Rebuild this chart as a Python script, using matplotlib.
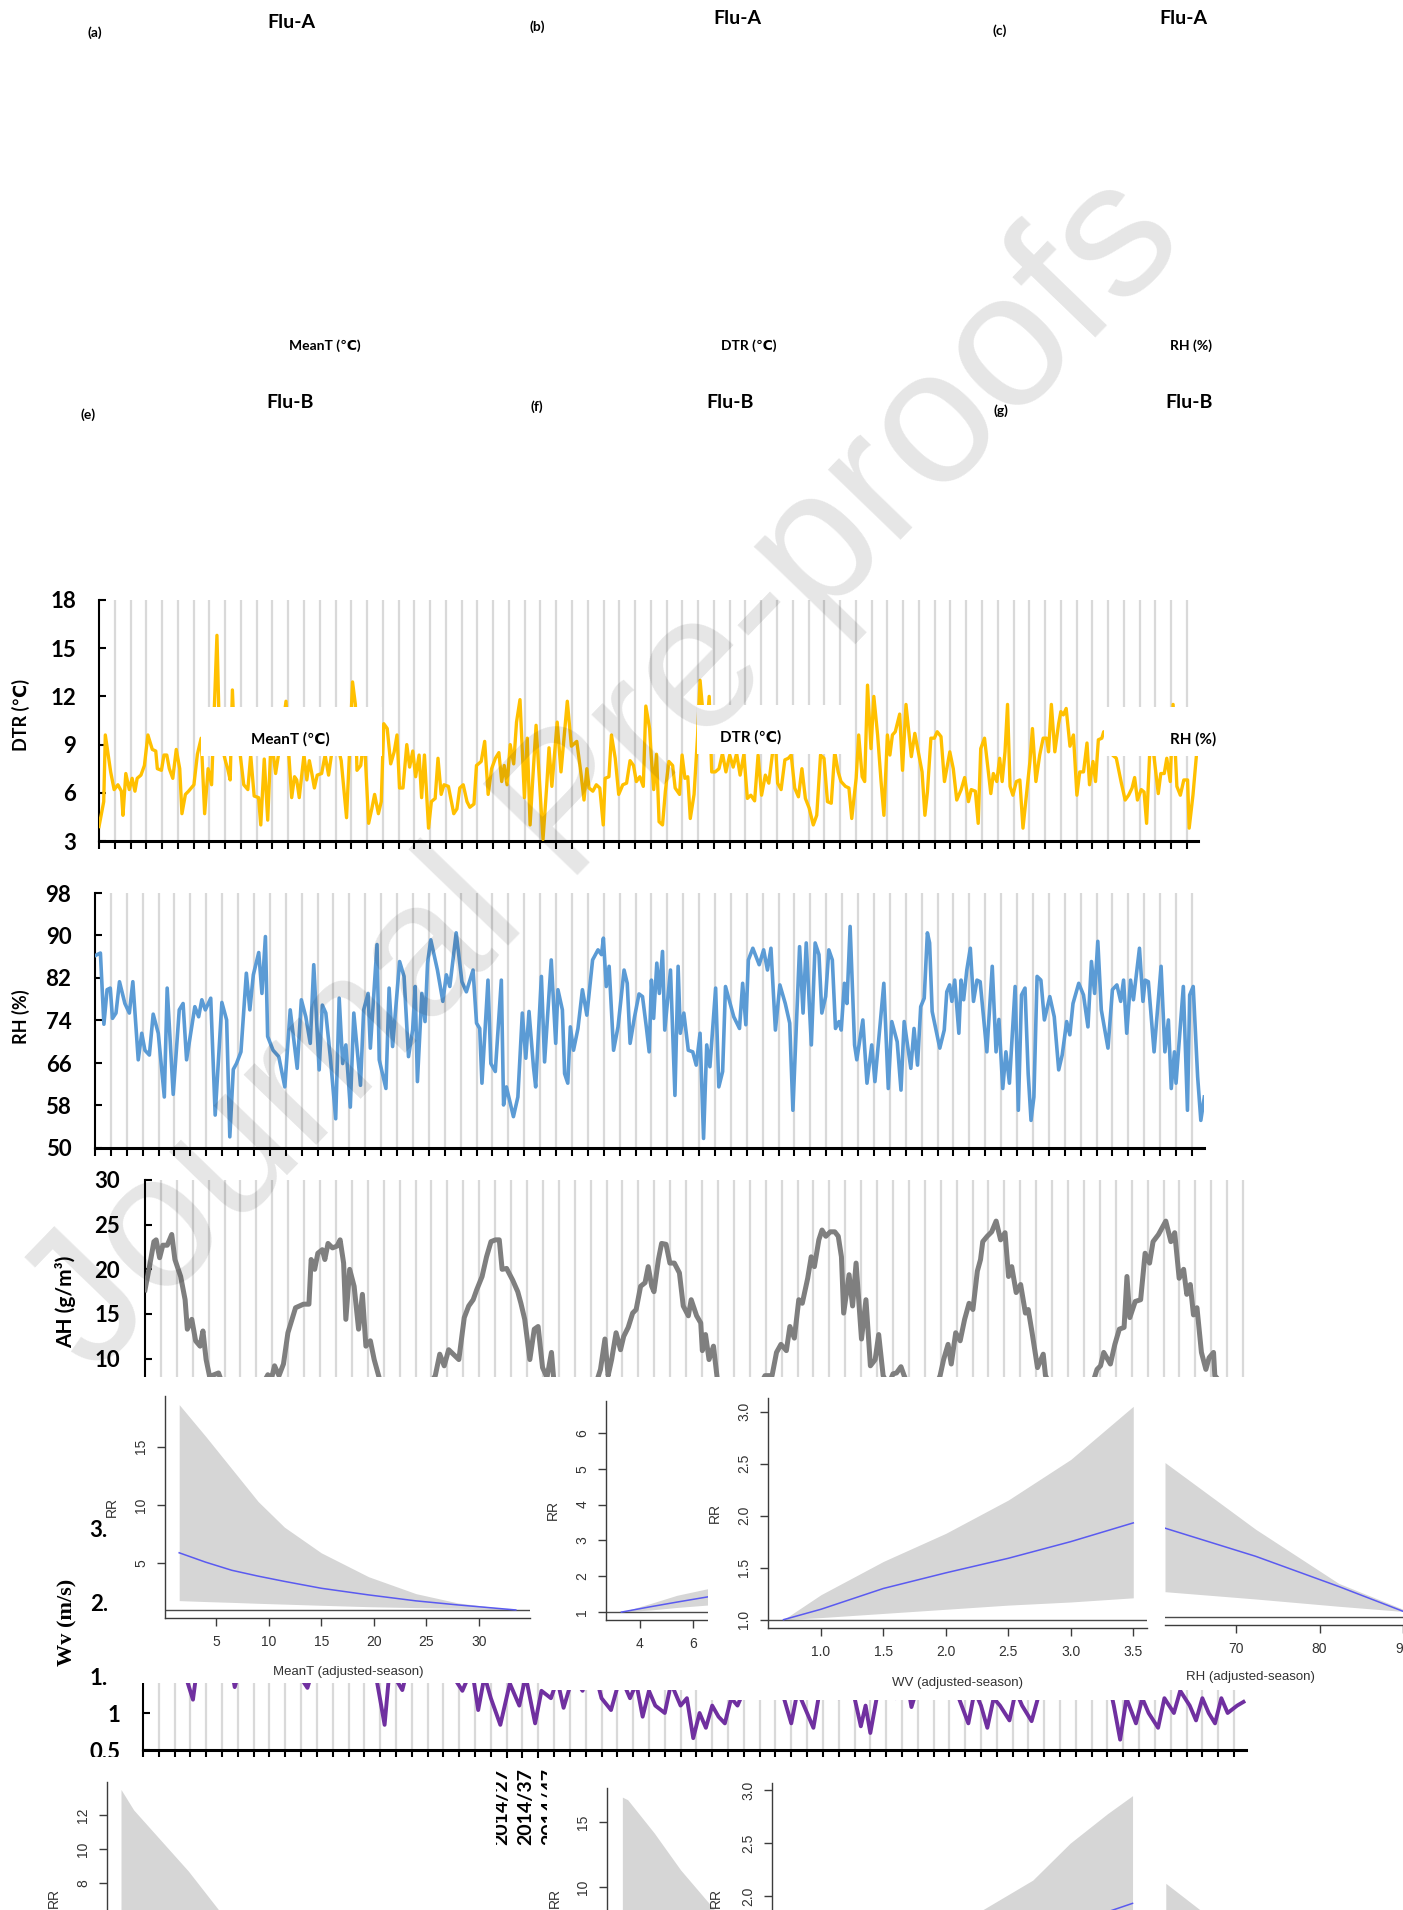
import numpy as np
import matplotlib
matplotlib.use("Agg")
from matplotlib import pyplot as plt
from matplotlib import font_manager as fm

# ---------------------------------------------------------------------------
# weekly series (x = week index, vertices)
# ---------------------------------------------------------------------------
dtr_week = [0, 1.5, 2.0, 3.7, 4.8, 6.0, 7.1, 7.6, 8.5, 9.6,
            10.5, 11.4, 12.1, 13.3, 14.4, 15.5, 16.9, 18.0, 18.5, 19.8,
            20.6, 21.5, 22.3, 23.4, 24.5, 25.6, 26.3, 27.4, 28.4, 30.1,
            31.2, 32.4, 33.5, 34.6, 35.7, 37.4, 38.2, 40.2, 40.8, 41.6,
            42.3, 43.0, 44.7, 45.9, 47.2, 48.1, 49.2, 50.6, 51.3, 52.4,
            53.5, 54.6, 56.0, 56.9, 58.2, 59.3, 60.2, 61.1, 62.0, 62.7,
            63.5, 65.0, 65.9, 66.7, 67.4, 68.3, 69.2, 70.6, 71.7, 72.8,
            73.7, 75.1, 76.8, 78.5, 79.4, 80.4, 81.3, 81.8, 83.0, 84.1,
            85.5, 86.5, 87.4, 88.6, 89.5, 90.3, 91.4, 92.5, 93.6, 94.5,
            95.3, 96.4, 97.6, 98.5, 99.5, 100.4, 101.5, 102.3, 103.2, 104.5,
            105.4, 106.6, 107.5, 108.5, 109.4, 110.8, 112.5, 113.5, 114.4, 115.5,
            116.7, 117.6, 118.9, 119.7, 121.2, 122.3, 123.4, 124.5, 125.7, 126.8,
            127.7, 128.5, 129.4, 130.4, 131.5, 132.4, 133.5, 134.9, 135.8, 136.7,
            137.5, 138.6, 139.7, 140.8, 142.0, 142.7, 143.6, 145.3, 146.5, 148.5,
            149.8, 151.5, 152.9, 153.8, 154.7, 155.4, 156.6, 157.7, 158.8, 159.9,
            160.5, 161.7, 162.5, 163.7, 164.8, 166.1, 167.3, 168.4, 169.5, 170.4,
            171.5, 172.6, 173.4, 174.6, 175.1, 175.9, 176.8, 177.6, 178.7, 179.6,
            180.7, 181.9, 182.7, 184.1, 184.9, 185.8, 186.7, 187.5, 188.7, 189.8,
            190.6, 192.4, 193.5, 194.3, 195.4, 196.6, 197.7, 198.8, 200.0, 201.1,
            202.2, 203.3, 204.5, 205.6, 206.7, 207.9, 209.0, 210.1, 211.3, 212.4,
            213.5, 214.3, 215.2, 216.3, 217.5, 218.6, 219.5, 220.6, 221.8, 222.9,
            224.0, 225.2, 226.5, 227.6, 228.8, 229.9, 231.0, 232.2, 233.3, 234.4,
            235.3, 236.7, 237.8, 238.7, 240.1, 240.9, 242.0, 242.8, 243.7, 244.8,
            245.7, 246.9, 248.0, 248.9, 250.0, 250.8, 251.6, 252.5, 253.9, 254.8,
            255.9, 257.0, 257.6, 258.7, 259.8, 261.0, 261.9, 262.7, 263.8, 264.9,
            265.8, 267.0, 268.1, 269.8, 270.9, 272.0, 273.4, 274.5, 275.7, 276.6,
            277.9, 278.8, 279.6, 280.8, 281.9, 282.8, 283.6, 284.7, 285.6, 286.4,
            287.3, 288.1, 288.9, 289.8, 290.9, 292.0, 293.0, 294.1, 295.2, 296.0,
            297.1, 298.3, 299.4, 300.5, 301.1, 302.0, 303.1, 304.3, 305.0, 305.8,
            306.7, 307.9, 309.0, 310.1, 311.0, 312.2, 313.3, 314.1, 315.2, 316.0,
            316.9, 318.0, 318.6, 320.3, 321.4, 322.6, 324.2, 325.4, 326.5, 327.6,
            328.4, 329.3, 330.5, 331.4, 332.2, 333.3, 334.4, 335.9, 336.7, 337.8,
            338.6, 339.7, 340.6, 341.8, 342.9, 344.0, 345.2, 345.7, 346.9, 348.3]
dtr_val = [3.9, 5.45, 9.6, 7.3, 6.2, 6.5, 6.1, 4.6, 7.2, 6.2,
           6.9, 6.1, 6.9, 7.1, 7.7, 9.6, 8.7, 8.6, 7.5, 7.4,
           8.35, 8.35, 7.5, 6.9, 8.7, 7.5, 4.7, 5.9, 6.1, 6.5,
           8.4, 9.4, 4.7, 7.5, 6.5, 15.8, 9.5, 7.9, 7.5, 6.8,
           12.4, 9.0, 8.5, 6.5, 6.2, 8.35, 5.8, 5.7, 4.0, 8.1,
           4.3, 9.5, 7.2, 8.35, 10.0, 11.7, 8.35, 5.7, 7.0, 6.8,
           5.7, 8.35, 6.8, 8.0, 7.3, 6.3, 7.1, 7.2, 8.35, 7.1,
           8.35, 9.4, 8.0, 4.45, 8.35, 12.9, 11.5, 7.4, 7.7, 9.6,
           4.1, 5.0, 5.9, 4.7, 5.45, 10.3, 10.0, 7.8, 8.55, 9.6,
           6.3, 6.3, 9.0, 7.6, 8.6, 7.0, 8.35, 5.7, 8.35, 3.8,
           5.45, 5.65, 8.15, 5.9, 6.5, 6.4, 4.7, 5.0, 6.3, 6.5,
           5.45, 5.1, 5.3, 7.7, 7.95, 9.2, 5.9, 7.5, 8.15, 8.5,
           6.7, 7.7, 6.5, 9.0, 7.8, 10.4, 11.8, 5.7, 9.4, 4.0,
           6.7, 10.2, 6.7, 3.1, 6.5, 8.8, 6.4, 10.4, 7.3, 11.7,
           8.9, 9.2, 7.1, 5.55, 7.5, 6.3, 6.1, 6.5, 6.3, 4.0,
           6.9, 7.0, 9.6, 8.15, 5.9, 6.5, 6.6, 8.0, 7.7, 6.7,
           7.0, 6.4, 11.4, 10.0, 8.35, 6.2, 8.4, 4.2, 4.0, 6.1,
           7.95, 7.7, 6.3, 5.9, 8.35, 6.9, 7.0, 4.4, 5.9, 9.5,
           13.0, 9.0, 12.0, 7.3, 7.3, 7.5, 8.45, 7.3, 8.35, 7.6,
           8.45, 7.1, 8.4, 5.65, 5.85, 5.5, 8.35, 5.85, 7.1, 6.6,
           8.35, 9.8, 6.6, 6.2, 8.05, 8.15, 8.35, 6.3, 5.75, 7.5,
           5.65, 5.05, 4.0, 4.6, 8.35, 8.15, 5.45, 5.35, 8.55, 7.3,
           6.7, 6.4, 6.3, 4.4, 6.9, 9.6, 7.0, 6.7, 12.7, 8.75,
           12.0, 9.6, 6.7, 4.6, 9.6, 8.35, 9.6, 9.8, 10.9, 7.4,
           11.5, 9.4, 8.25, 9.7, 8.55, 7.3, 4.6, 6.05, 9.4, 9.4,
           9.8, 9.5, 6.7, 8.55, 7.5, 5.55, 6.2, 6.95, 5.45, 6.2,
           6.1, 4.1, 8.75, 9.4, 7.5, 5.95, 7.2, 6.7, 8.15, 6.7,
           8.55, 11.5, 6.4, 5.85, 6.7, 6.8, 3.8, 5.85, 7.95, 10.0,
           6.7, 8.35, 9.4, 9.4, 8.55, 11.5, 8.55, 10.3, 11.05, 10.85,
           11.25, 8.9, 9.6, 5.85, 7.3, 7.3, 9.1, 6.5, 7.95, 6.7,
           9.3, 9.4, 9.8, 9.0, 8.35, 8.15, 6.6, 5.55, 5.85, 6.3,
           6.95, 5.55, 6.2, 6.05, 4.1, 9.0, 8.5, 5.95, 7.2, 7.2,
           8.15, 6.7, 11.5, 6.4, 5.85, 6.8, 6.8, 3.8, 5.85, 9.0]

rh_week = [0, 1.7, 2.8, 3.8, 4.8, 5.5, 6.6, 7.7, 9.4, 10.8,
           11.9, 13.6, 14.7, 15.7, 17.1, 18.3, 19.9, 21.8, 22.7, 24.6,
           26.5, 27.7, 28.8, 31.4, 32.6, 33.6, 34.7, 36.4, 37.8, 39.9,
           41.4, 42.4, 43.5, 44.5, 45.9, 47.6, 48.7, 49.8, 51.5, 52.5,
           53.6, 54.3, 56.0, 57.8, 59.7, 61.4, 63.6, 64.9, 66.3, 67.7,
           68.8, 70.5, 71.5, 72.6, 74.0, 75.7, 76.8, 77.9, 78.9, 80.3,
           81.4, 83.5, 84.5, 85.9, 86.6, 88.7, 89.4, 91.5, 92.5, 93.6,
           95.8, 97.2, 98.6, 99.9, 100.7, 101.4, 102.8, 103.8, 104.6, 105.6,
           107.7, 109.4, 110.5, 111.6, 113.6, 115.4, 116.8, 118.9, 120.0, 121.0,
           121.7, 123.6, 124.5, 125.9, 127.8, 128.5, 129.4, 131.6, 133.0, 134.4,
           135.5, 136.5, 137.9, 138.6, 140.4, 141.4, 143.5, 144.9, 145.6, 147.0,
           147.7, 148.7, 149.5, 150.5, 151.9, 153.3, 154.7, 156.5, 158.2, 159.3,
           159.9, 160.8, 161.7, 163.1, 164.5, 166.4, 167.4, 168.3, 169.7, 171.1,
           172.2, 173.4, 174.3, 175.0, 175.7, 176.7, 177.5, 178.5, 179.2, 181.0,
           182.4, 183.4, 184.1, 185.2, 186.6, 188.0, 189.1, 190.3, 191.4, 192.4,
           193.4, 195.2, 196.2, 197.4, 198.3, 200.9, 202.7, 203.7, 204.7, 205.5,
           206.9, 208.9, 210.3, 211.5, 212.6, 214.0, 215.4, 217.1, 218.5, 219.5,
           221.6, 222.7, 223.7, 225.3, 226.5, 227.7, 228.6, 229.8, 230.8, 231.9,
           232.9, 234.0, 234.7, 235.7, 236.5, 237.5, 238.9, 239.6, 241.5, 242.8,
           244.3, 245.3, 248.1, 249.5, 250.6, 252.3, 253.5, 254.5, 256.6, 257.6,
           258.7, 259.7, 260.8, 261.8, 262.5, 263.3, 264.3, 265.7, 267.1, 267.9,
           268.8, 269.5, 270.4, 271.7, 272.4, 273.2, 274.2, 275.3, 276.3, 277.4,
           278.4, 280.5, 282.2, 283.4, 284.3, 285.5, 286.5, 287.6, 289.4, 290.4,
           291.4, 292.5, 293.5, 294.4, 295.3, 296.3, 297.5, 298.6, 300.3, 301.7,
           303.1, 304.2, 305.6, 306.6, 307.6, 309.4, 310.9, 312.3, 313.4, 314.4,
           315.4, 316.5, 318.6, 320.0, 321.4, 322.6, 323.5, 324.5, 325.7, 326.6,
           328.5, 329.6, 330.3, 331.3, 333.1, 335.3, 336.5, 337.6, 338.5, 339.5,
           340.0, 342.3, 343.6, 344.3, 345.4, 346.8, 347.8, 348.9]
rh_val = [86.2, 86.7, 73.3, 79.8, 80.1, 74.4, 75.4, 81.3, 77.2, 75.4,
          81.3, 66.6, 71.6, 68.4, 67.5, 75.2, 71.6, 59.6, 80.1, 60.1,
          76.0, 77.2, 66.6, 76.6, 74.7, 77.9, 76.0, 78.2, 56.2, 77.4,
          74.1, 52.1, 64.8, 65.9, 68.1, 82.9, 76.0, 82.6, 86.8, 79.1,
          89.8, 71.0, 68.4, 67.2, 61.5, 76.0, 65.0, 77.9, 74.7, 69.7,
          84.5, 64.7, 76.9, 75.4, 67.2, 55.5, 78.2, 65.9, 69.4, 57.7,
          75.4, 61.8, 76.0, 79.1, 68.8, 88.3, 66.6, 61.2, 80.1, 69.1,
          85.1, 82.3, 67.2, 72.2, 80.4, 62.5, 79.1, 73.8, 84.8, 89.2,
          83.5, 77.6, 82.6, 80.4, 90.5, 81.3, 79.4, 83.5, 73.5, 72.5,
          62.2, 81.6, 65.9, 64.4, 81.6, 58.1, 61.5, 55.9, 59.6, 75.4,
          66.9, 75.7, 65.3, 61.5, 82.3, 66.2, 85.4, 69.7, 79.8, 76.0,
          64.0, 62.2, 72.8, 68.4, 72.5, 79.8, 75.0, 85.4, 87.3, 86.4,
          89.5, 80.4, 84.2, 68.4, 72.8, 83.5, 81.0, 69.7, 74.7, 79.0,
          78.5, 72.8, 68.1, 81.6, 74.4, 84.8, 79.1, 87.0, 72.2, 83.5,
          59.9, 84.2, 71.6, 75.4, 68.4, 68.1, 65.6, 71.6, 51.8, 69.4,
          65.3, 80.1, 61.5, 64.4, 80.4, 74.7, 72.5, 81.0, 73.2, 85.4,
          87.6, 84.5, 87.3, 83.5, 87.6, 72.2, 80.7, 77.2, 73.5, 57.1,
          87.9, 75.4, 88.6, 69.4, 88.6, 86.4, 75.4, 78.5, 87.3, 85.4,
          72.5, 73.8, 72.2, 81.0, 77.2, 91.7, 69.4, 66.6, 74.1, 62.2,
          69.4, 62.5, 81.0, 61.2, 73.8, 70.0, 60.9, 73.8, 65.0, 72.5,
          65.6, 76.6, 78.2, 90.5, 88.6, 75.7, 72.8, 68.8, 72.2, 79.4,
          80.7, 77.6, 81.6, 71.6, 81.6, 77.9, 83.5, 87.6, 77.6, 81.6,
          81.3, 68.1, 84.2, 68.1, 74.2, 61.2, 68.1, 62.2, 80.4, 57.1,
          78.8, 80.1, 64.0, 55.2, 59.6, 82.3, 81.6, 74.1, 78.5, 74.7,
          64.7, 67.5, 73.8, 71.3, 77.2, 81.0, 78.8, 72.8, 85.1, 79.1,
          88.9, 76.0, 68.8, 79.8, 80.7, 77.6, 81.6, 71.6, 81.6, 77.9,
          87.6, 77.6, 81.6, 81.3, 68.1, 84.2, 68.1, 74.1, 61.2, 68.1,
          62.2, 80.4, 57.1, 78.8, 80.4, 63.4, 55.2, 59.6]

ah_week = [0, 1.4, 2.8, 3.5, 4.6, 5.6, 7.0, 8.4, 9.4, 11.2,
           12.6, 13.3, 14.7, 15.9, 17.3, 18.2, 19.2, 20.3, 23.1, 25.0,
           29.0, 33.0, 36.5, 38.6, 39.7, 40.7, 42.1, 43.5, 44.9, 47.3,
           49.8, 51.5, 52.2, 53.3, 54.3, 55.7, 56.5, 57.5, 58.9, 60.3,
           61.3, 62.4, 63.1, 64.3, 65.7, 67.1, 68.3, 69.4, 70.8, 72.0,
           73.7, 77.0, 81.0, 85.0, 88.5, 91.2, 92.6, 94.0, 95.4, 98.6,
           100.3, 101.7, 103.1, 104.2, 105.9, 107.3, 108.7, 110.1, 111.3, 112.2,
           113.6, 115.5, 117.1, 118.1, 119.3, 120.9, 122.3, 123.5, 124.9, 126.3,
           127.7, 128.4, 131.0, 135.0, 139.0, 141.5, 143.1, 144.5, 145.5, 146.6,
           148.0, 149.4, 150.4, 151.8, 153.2, 154.3, 155.7, 157.1, 158.1, 159.2,
           159.9, 161.3, 162.3, 163.7, 164.9, 166.3, 167.9, 169.1, 170.7, 171.6,
           173.3, 174.6, 175.1, 176.1, 177.2, 178.6, 179.8, 183.0, 187.0, 191.0,
           194.8, 197.0, 198.4, 199.8, 201.5, 202.6, 204.0, 205.4, 206.5, 208.2,
           209.3, 210.3, 211.7, 212.7, 213.9, 215.3, 216.7, 217.8, 218.8, 219.5,
           221.2, 222.3, 223.4, 225.1, 226.5, 227.9, 229.4, 230.5, 231.9, 233.5,
           235.0, 236.1, 237.5, 238.5, 241.0, 245.0, 248.0, 249.8, 250.9, 252.3,
           253.3, 254.7, 256.1, 257.5, 258.9, 260.1, 261.5, 262.5, 263.2, 264.6,
           266.0, 267.4, 268.8, 270.2, 271.3, 272.3, 273.7, 275.1, 276.6, 277.5,
           278.7, 280.4, 282.2, 282.9, 286.0, 290.0, 294.0, 297.5, 299.1, 300.2,
           301.2, 303.3, 304.7, 306.1, 307.6, 308.5, 309.4, 311.1, 312.8, 314.2,
           315.6, 316.7, 318.4, 320.7, 322.3, 323.5, 324.9, 326.3, 327.3, 328.4,
           329.4, 330.5, 331.9, 333.3, 334.3, 335.7, 336.1, 340.0, 344.0, 348.0]
ah_val = [17.7, 20.3, 23.1, 23.3, 21.3, 22.7, 22.7, 23.9, 21.1, 19.2,
          16.6, 13.3, 14.4, 12.0, 11.4, 13.1, 9.9, 8.0, 8.4, 6.5,
          5.0, 5.5, 6.8, 8.2, 7.7, 9.2, 8.1, 9.4, 12.9, 15.7,
          16.1, 16.1, 21.1, 20.0, 21.8, 22.2, 21.1, 22.9, 22.4, 22.6,
          23.3, 20.7, 14.4, 20.0, 18.1, 13.3, 17.2, 11.4, 12.0, 9.9,
          7.7, 6.0, 5.2, 4.8, 6.5, 8.1, 10.5, 9.2, 11.0, 9.9,
          14.6, 15.9, 16.6, 17.7, 19.2, 21.4, 23.1, 23.3, 23.3, 20.0,
          20.1, 18.8, 17.5, 16.2, 14.4, 9.9, 13.3, 13.6, 9.0, 7.9,
          10.7, 7.7, 6.0, 5.0, 5.5, 7.0, 8.8, 12.2, 8.1, 9.9,
          12.9, 11.0, 12.5, 13.5, 15.1, 15.5, 18.1, 18.5, 20.3, 18.1,
          17.5, 21.1, 22.9, 22.8, 20.7, 20.7, 19.6, 15.9, 14.8, 16.6,
          14.8, 14.0, 10.9, 12.7, 9.9, 11.4, 7.7, 6.0, 5.0, 5.5,
          8.1, 8.1, 10.7, 11.6, 10.9, 13.6, 12.3, 16.6, 16.2, 19.0,
          21.4, 20.3, 23.3, 24.4, 23.7, 24.2, 24.2, 23.7, 21.4, 15.1,
          19.4, 15.9, 20.7, 12.2, 16.6, 9.2, 9.9, 12.7, 8.1, 7.0,
          8.3, 8.4, 9.1, 8.1, 6.0, 5.0, 6.5, 8.1, 9.9, 11.6,
          9.4, 12.9, 12.0, 14.4, 16.2, 15.5, 19.8, 21.1, 23.1, 23.7,
          24.2, 25.4, 23.3, 24.1, 19.2, 20.3, 17.4, 18.3, 15.1, 15.5,
          12.9, 9.0, 10.5, 8.1, 6.0, 5.0, 5.5, 7.0, 8.8, 9.2,
          10.7, 9.4, 11.6, 13.3, 13.5, 19.2, 14.6, 16.4, 16.6, 21.8,
          20.7, 23.1, 23.9, 25.4, 23.1, 24.1, 19.0, 20.0, 17.2, 18.3,
          14.9, 15.7, 10.7, 8.8, 10.1, 10.7, 8.1, 6.5, 5.5, 5.0]

wv_week = [0, 4, 8, 12, 15.8, 18, 22, 26, 29, 32,
           36, 40, 44, 48, 52, 56, 60, 64, 68, 72,
           75, 76.4, 78, 82, 86, 90, 94, 98, 101, 104,
           106, 108, 110, 113, 116, 119, 121, 124, 126, 129,
           131, 133, 136, 139, 142, 145, 148, 151, 154, 156,
           158, 160, 162, 165, 167, 170, 172, 174, 176, 178,
           180, 182, 184, 186, 188, 190, 194, 198, 202, 205,
           207, 209, 212, 214, 217, 220, 224, 227, 228.5, 230,
           232, 235, 238, 241, 243, 246, 250, 254, 258, 261,
           263, 265, 267, 269, 271, 274, 276, 278, 281, 283,
           286, 290, 294, 298, 302, 305, 307, 309, 311, 314,
           316, 318, 321, 323, 326, 328, 331, 333, 335, 337,
           339, 341, 343, 346, 348]
wv_val = [1.8, 1.6, 2.0, 1.7, 1.18, 1.9, 1.6, 2.1, 1.35, 1.8,
          2.2, 1.7, 2.0, 1.6, 1.34, 1.9, 1.7, 2.1, 1.6, 1.9,
          1.18, 0.84, 1.6, 1.31, 2.0, 1.7, 1.9, 1.5, 1.3, 1.6,
          1.04, 1.5, 1.2, 0.84, 1.4, 1.1, 1.5, 0.86, 1.3, 1.2,
          1.45, 1.07, 1.5, 1.3, 1.7, 1.2, 1.04, 1.5, 1.2, 1.4,
          0.95, 1.3, 1.1, 1.0, 1.4, 1.1, 1.2, 0.66, 1.0, 0.8,
          1.1, 0.95, 0.86, 1.2, 1.1, 1.3, 1.7, 1.5, 1.3, 0.86,
          1.3, 1.1, 0.8, 1.3, 1.6, 1.2, 1.4, 0.82, 1.1, 0.73,
          1.2, 1.4, 1.2, 1.6, 1.08, 1.5, 1.8, 1.4, 1.2, 0.86,
          1.3, 1.1, 0.8, 1.2, 1.1, 0.9, 1.3, 1.1, 0.89, 1.2,
          1.5, 1.7, 1.4, 1.6, 1.3, 1.5, 1.1, 0.64, 1.2, 0.86,
          1.2, 1.0, 0.8, 1.2, 1.0, 1.3, 1.1, 0.9, 1.2, 1.0,
          0.86, 1.2, 1.0, 1.1, 1.15]

dtr_ticks = [3, 6, 9, 12, 15, 18]
rh_ticks = [50, 58, 66, 74, 82, 90, 98]
ah_ticks = [0, 5, 10, 15, 20, 25, 30]
wv_ticks = [0.5, 1, 1.5, 2, 2.5, 3, 3.5, 4]
wv_tick_labels = ["0.5", "1", "1.5", "2", "2.5", "3", "3.5", "4"]
week_labels = ["2014/27", "2014/37", "2014/47"]

# ---------------------------------------------------------------------------
# exposure-response curves (RR with confidence band)
# ---------------------------------------------------------------------------
a_x = [1.5, 4, 6.5, 9, 11.5, 15, 19.5, 24, 28, 33.5]
a_up = [18.6, 15.9, 13.1, 10.3, 8.1, 5.9, 3.85, 2.4, 1.6, 1.0]
a_mid = [5.9, 5.1, 4.4, 3.9, 3.45, 2.86, 2.29, 1.78, 1.43, 1.0]
a_lo = [1.8, 1.72, 1.65, 1.57, 1.5, 1.4, 1.28, 1.2, 1.14, 1.0]

b_x = [3.3, 4.4, 5.4, 6.6]
b_up = [1.0, 1.24, 1.47, 1.66]
b_mid = [1.0, 1.15, 1.28, 1.43]
b_lo = [1.0, 1.06, 1.13, 1.2]

c_x = [0.7, 1.0, 1.5, 2.0, 2.5, 3.0, 3.5]
c_up = [1.0, 1.24, 1.56, 1.83, 2.15, 2.54, 3.05]
c_mid = [1.0, 1.10, 1.30, 1.45, 1.59, 1.75, 1.93]
c_lo = [1.0, 1.02, 1.06, 1.10, 1.14, 1.17, 1.21]

d_x = [61.4, 72.3, 82.3, 90.1]
d_up = [2.48, 1.84, 1.32, 1.07]
d_mid = [1.85, 1.58, 1.29, 1.05]
d_lo = [1.24, 1.17, 1.10, 1.05]

e_x = [1.5, 2.7, 5.3, 7.9, 10.8, 20, 30, 33.6]
e_up = [13.5, 12.3, 10.5, 8.7, 6.4, 3.0, 1.4, 1.0]
e_mid = [4.8, 4.5, 4.0, 3.6, 3.2, 2.1, 1.2, 1.0]
e_lo = [1.6, 1.6, 1.5, 1.45, 1.4, 1.2, 1.05, 1.0]

f_x = [3.3, 3.5, 4.5, 5.5, 6.8, 8.0, 9.0]
f_up = [16.9, 16.7, 14.15, 11.3, 8.2, 6.0, 4.5]
f_mid = [5.0, 4.8, 4.2, 3.6, 3.0, 2.6, 2.3]
f_lo = [1.5, 1.5, 1.4, 1.3, 1.2, 1.1, 1.05]

g_x = [0.7, 1.0, 1.5, 2.0, 2.3, 2.7, 3.0, 3.3, 3.5]
g_up = [1.0, 1.15, 1.4, 1.7, 1.87, 2.15, 2.5, 2.78, 2.95]
g_mid = [1.0, 1.08, 1.2, 1.35, 1.45, 1.6, 1.72, 1.85, 1.93]
g_lo = [1.0, 1.02, 1.05, 1.08, 1.1, 1.13, 1.15, 1.18, 1.2]

h_x = [61.4, 65.5, 70, 80, 90]
h_up = [2.12, 1.87, 1.65, 1.3, 1.05]
h_mid = [1.6, 1.5, 1.4, 1.2, 1.02]
h_lo = [1.2, 1.15, 1.1, 1.05, 1.0]

# ---------------------------------------------------------------------------
W, H = 1403, 1910
fig = plt.figure(figsize=(W / 100, H / 100), dpi=100)

names = {f.name for f in fm.fontManager.ttflist}
BOLD = ['Lato', 'DejaVu Sans'] if 'Lato' in names else ['DejaVu Sans']
RFONT = 'Liberation Sans Narrow' if 'Liberation Sans Narrow' in names else 'Liberation Sans'


def px_axes(x0, y0, x1, y1, z=1, face='none'):
    ax = fig.add_axes([x0 / W, 1 - y1 / H, (x1 - x0) / W, (y1 - y0) / H], zorder=z)
    ax.set_facecolor(face)
    return ax


def cover(x0, y0, x1, y1, z=2):
    ax = px_axes(x0, y0, x1, y1, z, 'white')
    ax.set_xticks([])
    ax.set_yticks([])
    for s in ax.spines.values():
        s.set_visible(False)
    return ax


def ftext(x, y, s, **kw):
    kw.setdefault('ha', 'center')
    kw.setdefault('va', 'center')
    return fig.text(x / W, 1 - y / H, s, **kw)


week_ticks = np.arange(0, 346, 5)


def series_panel(box, weeks, vals, color, lw, xmax, ylim, yticks, ylabels, pad):
    ax = px_axes(*box, z=1)
    for t in week_ticks[1:]:
        ax.axvline(t, color='#d9d9d9', lw=1.6, zorder=1)
    ax.plot(weeks, vals, color=color, lw=lw, solid_joinstyle='round', zorder=3)
    ax.set_xlim(0, xmax)
    ax.set_ylim(*ylim)
    ax.set_xticks(week_ticks)
    ax.set_xticklabels([])
    ax.set_yticks(yticks)
    ax.set_yticklabels(ylabels, fontfamily=BOLD, fontweight='bold', fontsize=16)
    ax.spines['top'].set_visible(False)
    ax.spines['right'].set_visible(False)
    ax.spines['left'].set_linewidth(1.5)
    ax.spines['bottom'].set_linewidth(2.2)
    ax.tick_params(axis='x', direction='out', length=6, width=1.5)
    ax.tick_params(axis='y', direction='in', length=5, width=1.5, pad=pad)
    return ax


series_panel((99, 600, 1198, 841), dtr_week, dtr_val, '#FFC000', 2.4, 348.5,
             (3, 18), dtr_ticks, [str(t) for t in dtr_ticks], 16.5)
series_panel((95, 893, 1204, 1148), rh_week, rh_val, '#5B9BD5', 2.6, 348.8,
             (50, 98), rh_ticks, [str(t) for t in rh_ticks], 17)
series_panel((145, 1180, 1253, 1448), ah_week, ah_val, '#7F7F7F', 3.6, 348.1,
             (0, 30), ah_ticks, [str(t) for t in ah_ticks], 18)
series_panel((143, 1491, 1246, 1750), wv_week, wv_val, '#7030A0', 2.8, 348.8,
             (0.5, 4.0), wv_ticks, wv_tick_labels, 16)

ftext(21, 715, "DTR (℃)", rotation=90, fontsize=13, fontweight='bold', fontfamily=BOLD)
ftext(21, 1017, "RH (%)", rotation=90, fontsize=13, fontweight='bold', fontfamily=BOLD)
ftext(66, 1302, "AH (g/m³)", rotation=90, fontsize=15, fontweight='bold', fontfamily=BOLD)
ftext(67, 1622, "Wv (m/s)", rotation=90, fontsize=16, fontweight='bold',
      fontfamily='Liberation Serif')

# white caption boxes lying over the DTR line
for (x0, y0, x1, y1), (tx, ty), lab in [((201, 707, 382, 756), (290, 739), "MeanT (℃)"),
                                         ((697, 705, 852, 754), (751, 737), "DTR (℃)"),
                                         ((1104, 707, 1225, 756), (1193, 739), "RH (%)")]:
    cover(x0, y0, x1, y1, 2)
    ftext(tx, ty, lab, fontsize=11, fontweight='bold', fontfamily=BOLD)

# top panel headers
for x, y, s, fs in [(95, 33, "(a)", 10), (291, 22, "Flu-A", 14), (537, 27, "(b)", 10),
                    (737, 19, "Flu-A", 14), (1000, 31, "(c)", 10), (1183, 19, "Flu-A", 14),
                    (325, 346, "MeanT (℃)", 10), (749, 346, "DTR (℃)", 10),
                    (1191, 346, "RH (%)", 10),
                    (88, 415, "(e)", 10), (290, 403, "Flu-B", 14), (537, 407, "(f)", 10),
                    (730, 402, "Flu-B", 14), (1001, 411, "(g)", 10), (1189, 402, "Flu-B", 14)]:
    ftext(x, y, s, fontsize=fs, fontweight='bold', fontfamily=BOLD)


# ---------------------------------------------------------------------------
def r_panel(box, z, xlim, ylim, xticks, xlabels, yticks, ylabels, left=True, bottom=True):
    ax = px_axes(*box, z=z)
    ax.set_xlim(*xlim)
    ax.set_ylim(*ylim)
    ax.spines['top'].set_visible(False)
    ax.spines['right'].set_visible(False)
    for s in ('left', 'bottom'):
        ax.spines[s].set_color('#3c3c3c')
        ax.spines[s].set_linewidth(1.0)
    ax.spines['left'].set_visible(left)
    ax.spines['bottom'].set_visible(bottom)
    ax.set_xticks(xticks)
    ax.set_xticklabels(xlabels, fontfamily=RFONT, fontsize=10)
    ax.set_yticks(yticks)
    ax.set_yticklabels(ylabels, fontfamily=RFONT, fontsize=10, rotation=90, va='center')
    ax.tick_params(colors='#3c3c3c', labelcolor='#333333', length=6, width=1, pad=6)
    if not left:
        ax.tick_params(axis='y', left=False, labelleft=False)
    if not bottom:
        ax.tick_params(axis='x', bottom=False, labelbottom=False)
    ax.axhline(1, color='#4a4a4a', lw=1.0, zorder=2)
    return ax


def rr_curve(ax, x, lo, mid, up):
    ax.fill_between(x, lo, up, color='#d6d6d6', lw=0, zorder=1)
    ax.plot(x, mid, color='#5a5af0', lw=1.1, zorder=3)


def rtext(x, y, s, **kw):
    return ftext(x, y, s, fontfamily=RFONT, color='#333333', zorder=6, **kw)


# middle block of response panels (white image backgrounds)
cover(107, 1377, 550, 1683, 2)
cover(107, 1377, 142, 1690, 2)
cover(550, 1377, 708, 1690, 2)
cover(1158, 1377, 1403, 1690, 2)

ax = r_panel((165, 1396, 530, 1618), 3, (0.15, 34.85), (0.31, 19.34),
             [5, 10, 15, 20, 25, 30], ["5", "10", "15", "20", "25", "30"],
             [5, 10, 15], ["5", "10", "15"])
rr_curve(ax, a_x, a_lo, a_mid, a_up)
rtext(112, 1507, "RR", rotation=90, fontsize=10)
rtext(348, 1672, "MeanT (adjusted-season)", fontsize=9.5)

ax = r_panel((606, 1401, 800, 1620), 3, (2.72, 10.04), (0.78, 6.89),
             [4, 6, 8, 10], ["4", "6", "8", "10"],
             [1, 2, 3, 4, 5, 6], ["1", "2", "3", "4", "5", "6"])
rr_curve(ax, b_x, b_lo, b_mid, b_up)
rtext(553, 1510, "RR", rotation=90, fontsize=10)

cover(708, 1377, 1158, 1700, 4)
ax = r_panel((768, 1398, 1147, 1628), 5, (0.576, 3.61), (0.92, 3.13),
             [1.0, 1.5, 2.0, 2.5, 3.0, 3.5], ["1.0", "1.5", "2.0", "2.5", "3.0", "3.5"],
             [1.0, 1.5, 2.0, 2.5, 3.0], ["1.0", "1.5", "2.0", "2.5", "3.0"])
rr_curve(ax, c_x, c_lo, c_mid, c_up)
rtext(715, 1513, "RR", rotation=90, fontsize=10)
rtext(958, 1683, "WV (adjusted-season)", fontsize=9.5)

ax = r_panel((1165, 1398, 1450, 1625), 5, (61.4, 95.7), (0.92, 3.1),
             [70, 80, 90], ["70", "80", "90"], [], [], left=False)
rr_curve(ax, d_x, d_lo, d_mid, d_up)
rtext(1250, 1677, "RH (adjusted-season)", fontsize=9.5)

# bottom block: week labels peeking through, then the Flu-B response panels
cover(0, 1757, 496, 1910, 2)
cover(547, 1757, 1403, 1910, 2)
cover(496, 1850, 547, 1910, 2)
win = px_axes(496, 1757, 547, 1850, z=2.5)
win.set_xticks([])
win.set_yticks([])
for s in win.spines.values():
    s.set_visible(False)
for fx, lab in zip([0.12, 0.58, 1.05], week_labels):
    win.text(fx, 0.47, lab, rotation=90, ha='center', va='center', transform=win.transAxes,
             clip_on=True, fontsize=14, fontweight='bold', fontfamily=BOLD)

ax = r_panel((107, 1782, 480, 2010), 3, (0.17, 35.6), (0.53, 13.94),
             [5, 10, 15, 20, 25, 30], ["5", "10", "15", "20", "25", "30"],
             [2, 4, 6, 8, 10, 12], ["2", "4", "6", "8", "10", "12"])
rr_curve(ax, e_x, e_lo, e_mid, e_up)
rtext(54, 1898, "RR", rotation=90, fontsize=10)

ax = r_panel((607, 1788, 780, 2010), 3, (2.72, 9.25), (0.54, 17.6),
             [4, 6, 8], ["4", "6", "8"], [5, 10, 15], ["5", "10", "15"])
rr_curve(ax, f_x, f_lo, f_mid, f_up)
rtext(555, 1898, "RR", rotation=90, fontsize=10)

ax = r_panel((772, 1783, 1150, 2010), 3, (0.61, 3.64), (0.92, 3.07),
             [1.0, 1.5, 2.0, 2.5, 3.0, 3.5], ["1.0", "1.5", "2.0", "2.5", "3.0", "3.5"],
             [1.0, 1.5, 2.0, 2.5, 3.0], ["1.0", "1.5", "2.0", "2.5", "3.0"])
rr_curve(ax, g_x, g_lo, g_mid, g_up)
rtext(716, 1898, "RR", rotation=90, fontsize=10)

ax = r_panel((1150, 1783, 1450, 2010), 3, (59.5, 95.6), (0.92, 3.07),
             [], [], [], [], left=False, bottom=False)
rr_curve(ax, h_x, h_lo, h_mid, h_up)

# watermark
ftext(605, 775, "Journal Pre-proofs", rotation=46, fontsize=138, color='black', alpha=0.10,
      fontfamily='Liberation Sans', zorder=20)

fig.savefig("out.png", dpi=100)
